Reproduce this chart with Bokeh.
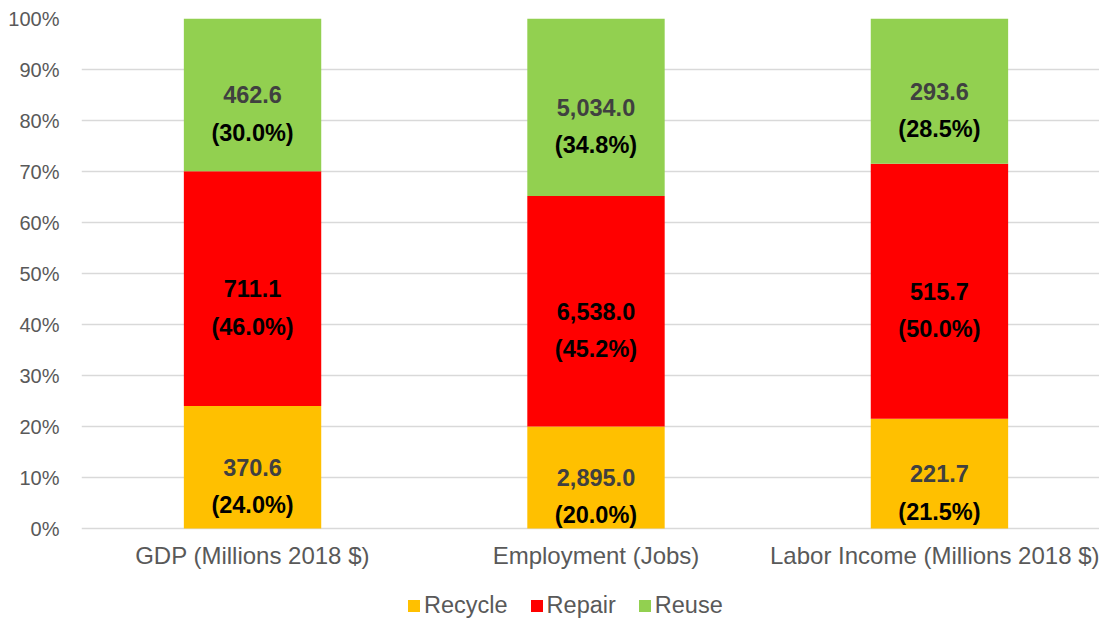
from bokeh.plotting import figure
from bokeh.models import (ColumnDataSource, Range1d, Legend, LegendItem,
                          NumeralTickFormatter, FixedTicker)
from bokeh.core.properties import value
from bokeh.embed import file_html
from bokeh.resources import INLINE

categories = ["GDP (Millions 2018 $)", "Employment (Jobs)", "Labor Income (Millions 2018 $)"]
series = ["Recycle", "Repair", "Reuse"]
recycle = [370.6, 2895.0, 221.7]
repair = [711.1, 6538.0, 515.7]
reuse = [462.6, 5034.0, 293.6]
colors = ["#FFC000", "#FF0000", "#92D050"]
y_ticks = [0, 0.1, 0.2, 0.3, 0.4, 0.5, 0.6, 0.7, 0.8, 0.9, 1.0]

FONT = "Liberation Sans"
VALUE_TEXT_COLOR = {"Recycle": "#404040", "Repair": "#000000", "Reuse": "#404040"}

vals = {"Recycle": recycle, "Repair": repair, "Reuse": reuse}
totals = [sum(t) for t in zip(recycle, repair, reuse)]
fracs = {s: [v / t for v, t in zip(vals[s], totals)] for s in series}
xpos = list(range(len(categories)))

src = ColumnDataSource(dict(x=xpos, **fracs))

lx, ly, lv, lp, lc = [], [], [], [], []
for i in xpos:
    base = 0.0
    for s in series:
        f = fracs[s][i]
        lx.append(i)
        ly.append(base + f / 2)
        lv.append(f"{vals[s][i]:,.1f}")
        lp.append(f"({f*100:.1f}%)")
        lc.append(VALUE_TEXT_COLOR[s])
        base += f
lab = ColumnDataSource(dict(x=lx, y=ly, v=lv, p=lp, c=lc))

# frame extends below 0% so the legend can sit inside it (510 px per 100%)
PX_PER_UNIT = 510
BELOW_PX = 93
p = figure(x_range=Range1d(-0.498, 2.466), y_range=Range1d(-BELOW_PX / PX_PER_UNIT, 1),
           frame_width=1018, frame_height=PX_PER_UNIT + BELOW_PX,
           output_backend="svg", toolbar_location=None,
           min_border_left=81, min_border_right=0, min_border_top=18, min_border_bottom=0)
p.outline_line_color = None
p.background_fill_color = "white"
p.border_fill_color = "white"

rs = p.vbar_stack(series, x="x", width=0.4, color=colors, source=src, line_color=None)

p.text(x="x", y="y", text="v", source=lab, text_font=value(FONT), text_font_style="bold",
       text_font_size="23.5px", text_color="c", text_align="center", text_baseline="middle")
p.text(x="x", y="y", text="p", source=lab, text_font=value(FONT), text_font_style="bold",
       text_font_size="23.5px", text_color="#000000", text_align="center", text_baseline="middle",
       y_offset=38)

p.xgrid.grid_line_color = None
p.ygrid.grid_line_color = "#D9D9D9"
p.ygrid.grid_line_width = 1.5
p.yaxis.ticker = FixedTicker(ticks=y_ticks)
p.yaxis.formatter = NumeralTickFormatter(format="0%")
p.xaxis.ticker = FixedTicker(ticks=xpos)
p.xaxis.major_label_overrides = {i: c for i, c in zip(xpos, categories)}
p.xaxis.fixed_location = 0
for ax in (p.xaxis[0], p.yaxis[0]):
    ax.axis_line_color = None
    ax.major_tick_line_color = None
    ax.minor_tick_line_color = None
    ax.major_tick_out = 0
    ax.minor_tick_out = 0
    ax.major_label_text_font = FONT
    ax.major_label_text_color = "#595959"
p.yaxis.major_label_text_font_size = "20px"
p.yaxis.major_label_standoff = 22
p.xaxis.major_label_text_font_size = "24px"
p.xaxis.major_label_standoff = 13

legend = Legend(items=[LegendItem(label=s, renderers=[r]) for s, r in zip(series, rs)],
                orientation="horizontal", location=(325, 2),
                glyph_width=15, glyph_height=15, label_standoff=3, spacing=21,
                label_text_font=FONT, label_text_font_size="23.5px", label_text_color="#595959",
                border_line_color=None, background_fill_alpha=0, padding=0, margin=0)
p.add_layout(legend, "center")

open("out.html", "w").write(file_html(p, INLINE))
